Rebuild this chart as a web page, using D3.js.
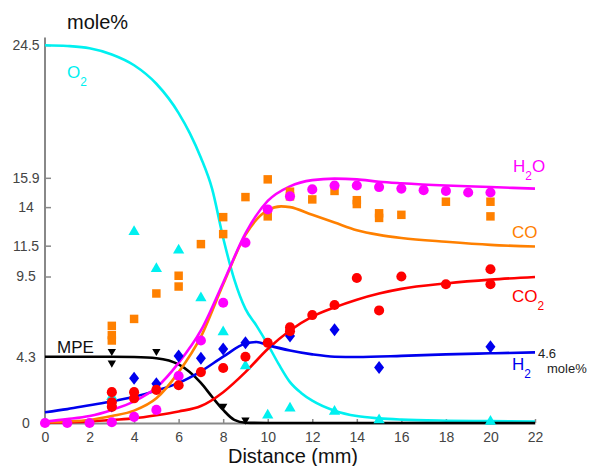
<!DOCTYPE html>
<html>
<head>
<meta charset="utf-8">
<script src="https://cdn.jsdelivr.net/npm/d3@7"></script>
<style>
  body { margin: 0; background: #fff; }
  text { font-family: "Liberation Sans", Arial, sans-serif; }
</style>
</head>
<body>
<div id="chart"></div>
<script>
// Axis ticks
const xTicks = [0, 2, 4, 6, 8, 10, 12, 14, 16, 18, 20, 22];
const yTicks = [0, 4.3, 9.5, 11.5, 14, 15.9, 24.5];

// Model curves [distance, mole%]
const o2Line = [[0,24.5],[1,24.45],[2,24.3],[3,23.9],[4,23.2],[5,22.0],[6,20.1],[6.5,18.8],[7,17.2],[7.5,15.2],[8,12.0],[8.5,9.3],[9,7.4],[9.5,6.3],[10,5.1],[10.5,3.8],[11,2.65],[11.5,1.95],[12,1.45],[13,0.8],[14,0.45],[15,0.3],[16,0.22],[18,0.15],[20,0.12],[22,0.1]];
const h2oLine = [[0,0.1],[1,0.25],[2,0.45],[3,0.85],[4,1.4],[5,2.3],[6,3.9],[7,6.0],[8,9.1],[9,12.3],[10,14.4],[11,15.35],[12,15.75],[13,15.85],[14,15.8],[15,15.65],[16,15.55],[18,15.4],[20,15.3],[22,15.2]];
const coLine = [[0,0.05],[1,0.1],[2,0.2],[3,0.45],[4,0.8],[5,1.6],[6,3.3],[7,5.6],[8,9.0],[9,12.2],[10,13.8],[10.6,14.05],[11,14.0],[12,13.5],[13,13.0],[14,12.5],[15,12.2],[16,12.0],[18,11.75],[20,11.55],[22,11.45]];
const co2Line = [[0,0.02],[2,0.1],[3,0.2],[4,0.3],[5,0.5],[6,0.75],[7,1.1],[8,2.0],[9,3.3],[10,4.8],[11,6.0],[12,6.9],[13,7.5],[14,8.0],[15,8.4],[16,8.7],[18,9.05],[20,9.3],[22,9.47]];
const h2Line = [[0,0.7],[1,0.9],[2,1.15],[3,1.4],[4,1.7],[5,2.1],[6,2.6],[7,3.35],[8,4.3],[9,5.15],[9.5,5.25],[10,5.05],[11,4.7],[12,4.45],[13,4.3],[14,4.28],[16,4.35],[18,4.45],[20,4.52],[22,4.58]];
const mpeLine = [[0,4.3],[2,4.3],[3,4.3],[4,4.28],[5,4.2],[6,3.8],[7,2.6],[7.5,1.7],[8,0.85],[8.5,0.2],[9,0.02],[10,0],[22,0]];

// Measured points [distance, mole%]
const o2Pts = [[3,1.7],[4,12.4],[5,10.0],[6,11.2],[7,8.1],[8,5.9],[9,3.7],[10,0.5],[11,0.95],[13,0.75],[15,0.2],[20,0.1]];
const h2oPts = [[0,0],[1,0],[2,0],[3,0.05],[4,0.4],[5,0.85],[6,3.05],[7,5.35],[8,7.8],[9,11.7],[10,13.85],[11,14.7],[12,15.15],[13,15.4],[14,15.4],[15,15.3],[16,15.2],[17,15.1],[18,15.05],[19,14.95],[20,14.95]];
const coPts = [[3,6.3],[3,5.7],[3,5.35],[4,6.75],[5,8.4],[6,9.55],[6,8.85],[7,11.6],[8,13.35],[8,12.25],[9,14.65],[10,15.8],[10,13.4],[11,15.0],[11,14.7],[12,14.5],[13,15.05],[14,14.45],[14,14.2],[15,13.6],[15,13.3],[16,13.5],[18,14.35],[20,14.35],[20,13.4]];
const co2Pts = [[3,2.0],[3,1.35],[3,1.05],[4,2.0],[4,1.6],[5,2.15],[6,2.45],[7,3.3],[8,3.57],[9,4.3],[10,5.2],[11,6.2],[11,5.95],[12,7.0],[13,7.65],[14,9.4],[15,7.3],[16,9.5],[18,9.0],[20,9.97],[20,9.0]];
const h2Pts = [[3,1.1],[4,2.9],[5,2.55],[6,4.35],[7,4.2],[8,4.8],[9,5.2],[11,5.65],[13,6.05],[15,3.6],[20,4.95]];
const mpePts = [[3,4.65],[3,3.9],[5,4.65],[8,1.1],[9,0.2]];

const width = 592, height = 466;
const svg = d3.select("#chart").append("svg")
    .attr("width", width)
    .attr("height", height);

const x = d3.scaleLinear().domain([0, 22]).range([45, 535]);
const y = d3.scaleLinear().domain([0, 25]).range([423, 37.5]);

const cyan = "#00f0f0", magenta = "#ff00ff", orange = "#ff8000",
      red = "#ff0000", blue = "#0000ee", black = "#000";

// Axes
const xAxis = svg.append("g")
    .attr("transform", `translate(0,${y(0)})`)
    .call(d3.axisBottom(x).tickValues(xTicks).tickSizeInner(-4).tickSizeOuter(0).tickPadding(9));
const yAxis = svg.append("g")
    .attr("transform", `translate(${x(0)},0)`)
    .call(d3.axisLeft(y).tickValues(yTicks).tickSizeInner(-6).tickSizeOuter(0).tickFormat(d => d));
[xAxis, yAxis].forEach(g => {
    g.select(".domain").attr("stroke", "#888").attr("stroke-width", 2);
    g.selectAll(".tick line").attr("stroke", "#888").attr("stroke-width", 1.5);
    g.selectAll(".tick text").attr("fill", "#444").style("font-size", "14px")
        .style("font-family", "'Liberation Sans', Arial, sans-serif");
});
yAxis.selectAll(".tick text").attr("text-anchor", "middle").attr("x", -19);
yAxis.select(".domain").attr("d", `M0,${y(0)}V${y(25)}`);

// Curves
const line = d3.line().x(d => x(d[0])).y(d => y(d[1])).curve(d3.curveMonotoneX);
const curves = [
    [o2Line, cyan], [mpeLine, black], [co2Line, red], [h2Line, blue],
    [coLine, orange], [h2oLine, magenta]
];
curves.forEach(([data, color]) => {
    svg.append("path").datum(data)
        .attr("d", line)
        .attr("fill", "none")
        .attr("stroke", color)
        .attr("stroke-width", 2.6);
});

// Markers
const diamond = "M0,-6.5L5,0L0,6.5L-5,0Z";
const series = [
    [o2Pts, cyan, d3.symbol(d3.symbolTriangle, 55)(), 0],
    [coPts, orange, d3.symbol(d3.symbolSquare, 72)(), 0],
    [h2oPts, magenta, d3.symbol(d3.symbolCircle, 80)(), 0],
    [h2Pts, blue, diamond, 0],
    [co2Pts, red, d3.symbol(d3.symbolCircle, 80)(), 0],
    [mpePts, black, d3.symbol(d3.symbolTriangle, 30)(), 180]
];
series.forEach(([data, color, path, rot]) => {
    svg.append("g").selectAll("path")
        .data(data)
        .enter().append("path")
        .attr("d", path)
        .attr("fill", color)
        .attr("transform", d => `translate(${x(d[0])},${y(d[1])}) rotate(${rot})`);
});

// Labels
function label(tx, ty, main, sub, tail, color, size) {
    const t = svg.append("text").attr("x", tx).attr("y", ty)
        .attr("fill", color).style("font-size", size + "px");
    t.append("tspan").text(main);
    if (sub) t.append("tspan").attr("dy", 8).style("font-size", (size * 0.7) + "px").text(sub);
    if (tail) t.append("tspan").attr("dy", -8).text(tail);
}
label(67, 29, "mole%", null, null, "#111", 20);
label(67, 78, "O", "2", null, cyan, 17);
label(513, 172, "H", "2", "O", magenta, 17);
label(512, 238, "CO", null, null, orange, 17);
label(512, 302, "CO", "2", null, red, 17);
label(512, 370, "H", "2", null, blue, 17);
label(57, 353, "MPE", null, null, "#111", 17);
label(538, 358, "4.6", null, null, "#222", 13);
label(547, 373, "mole%", null, null, "#222", 13);

svg.append("text")
    .attr("x", 293).attr("y", 463)
    .attr("text-anchor", "middle")
    .attr("fill", "#111")
    .style("font-size", "20px")
    .text("Distance (mm)");
</script>
</body>
</html>
